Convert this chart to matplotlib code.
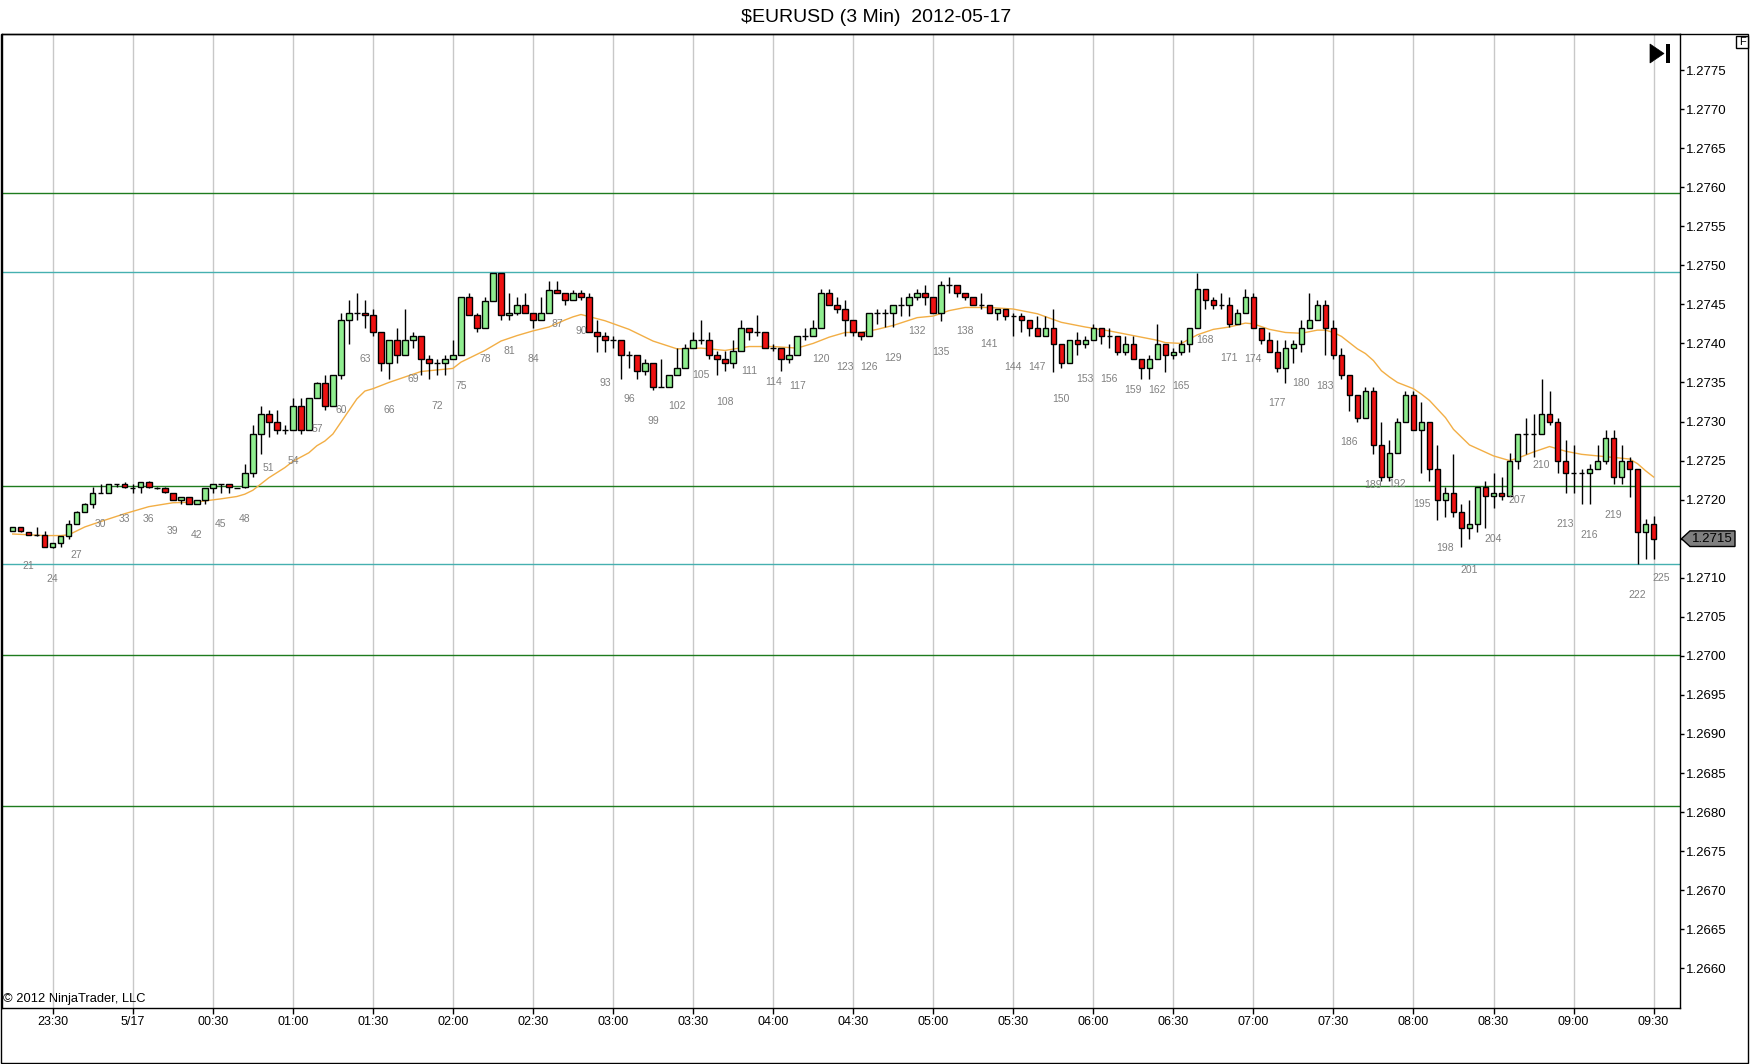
import matplotlib
matplotlib.use("Agg")
import matplotlib.pyplot as plt
from matplotlib.patches import Rectangle, Polygon
from matplotlib.transforms import blended_transform_factory

plt.rcParams['font.family'] = ['Liberation Sans', 'DejaVu Sans']

# ---- data (3 min bars, bar numbers 19..224) ----
first_bar = 19

opens = [
    1.27160, 1.27165, 1.27159, 1.27155, 1.27155, 1.27139, 1.27144, 1.27154, 1.27169, 1.27184,
    1.27194, 1.27209, 1.27209, 1.27220, 1.27220, 1.27215, 1.27216, 1.27223, 1.27215, 1.27215,
    1.27209, 1.27199, 1.27204, 1.27194, 1.27199, 1.27215, 1.27220, 1.27220, 1.27215, 1.27216,
    1.27234, 1.27284, 1.27310, 1.27299, 1.27289, 1.27289, 1.27320, 1.27289, 1.27330, 1.27349,
    1.27320, 1.27360, 1.27430, 1.27439, 1.27439, 1.27436, 1.27414, 1.27375, 1.27404, 1.27385,
    1.27404, 1.27410, 1.27380, 1.27375, 1.27375, 1.27380, 1.27385, 1.27459, 1.27436, 1.27420,
    1.27454, 1.27490, 1.27436, 1.27439, 1.27449, 1.27439, 1.27430, 1.27439, 1.27469, 1.27465,
    1.27455, 1.27465, 1.27460, 1.27415, 1.27410, 1.27404, 1.27404, 1.27385, 1.27385, 1.27365,
    1.27375, 1.27344, 1.27344, 1.27360, 1.27369, 1.27394, 1.27404, 1.27404, 1.27385, 1.27380,
    1.27375, 1.27390, 1.27420, 1.27415, 1.27415, 1.27394, 1.27394, 1.27380, 1.27385, 1.27410,
    1.27410, 1.27420, 1.27465, 1.27449, 1.27444, 1.27430, 1.27415, 1.27410, 1.27439, 1.27439,
    1.27439, 1.27449, 1.27449, 1.27459, 1.27465, 1.27459, 1.27439, 1.27475, 1.27475, 1.27465,
    1.27459, 1.27449, 1.27449, 1.27439, 1.27444, 1.27435, 1.27435, 1.27430, 1.27420, 1.27410,
    1.27420, 1.27399, 1.27375, 1.27404, 1.27399, 1.27404, 1.27420, 1.27410, 1.27410, 1.27389,
    1.27399, 1.27380, 1.27369, 1.27380, 1.27399, 1.27385, 1.27389, 1.27399, 1.27420, 1.27470,
    1.27455, 1.27449, 1.27449, 1.27425, 1.27439, 1.27459, 1.27420, 1.27404, 1.27389, 1.27369,
    1.27394, 1.27399, 1.27420, 1.27430, 1.27449, 1.27420, 1.27385, 1.27360, 1.27334, 1.27304,
    1.27339, 1.27270, 1.27229, 1.27260, 1.27300, 1.27334, 1.27289, 1.27300, 1.27239, 1.27199,
    1.27209, 1.27184, 1.27164, 1.27169, 1.27216, 1.27205, 1.27209, 1.27205, 1.27250, 1.27284,
    1.27284, 1.27284, 1.27310, 1.27299, 1.27250, 1.27234, 1.27234, 1.27234, 1.27239, 1.27250,
    1.27279, 1.27229, 1.27250, 1.27239, 1.27159, 1.27169,
]
highs = [
    1.27165, 1.27165, 1.27159, 1.27165, 1.27160, 1.27144, 1.27154, 1.27174, 1.27186, 1.27196,
    1.27216, 1.27220, 1.27220, 1.27220, 1.27223, 1.27220, 1.27223, 1.27224, 1.27216, 1.27216,
    1.27209, 1.27204, 1.27204, 1.27199, 1.27215, 1.27220, 1.27220, 1.27220, 1.27215, 1.27245,
    1.27295, 1.27320, 1.27315, 1.27315, 1.27295, 1.27330, 1.27330, 1.27330, 1.27350, 1.27360,
    1.27360, 1.27439, 1.27455, 1.27465, 1.27455, 1.27444, 1.27414, 1.27404, 1.27420, 1.27444,
    1.27414, 1.27410, 1.27385, 1.27380, 1.27385, 1.27404, 1.27459, 1.27465, 1.27439, 1.27459,
    1.27490, 1.27490, 1.27465, 1.27459, 1.27465, 1.27439, 1.27459, 1.27480, 1.27480, 1.27465,
    1.27469, 1.27469, 1.27465, 1.27430, 1.27415, 1.27410, 1.27404, 1.27390, 1.27385, 1.27380,
    1.27375, 1.27380, 1.27360, 1.27394, 1.27399, 1.27415, 1.27430, 1.27415, 1.27390, 1.27390,
    1.27404, 1.27430, 1.27420, 1.27436, 1.27415, 1.27399, 1.27394, 1.27399, 1.27410, 1.27420,
    1.27430, 1.27470, 1.27470, 1.27459, 1.27455, 1.27430, 1.27415, 1.27439, 1.27444, 1.27444,
    1.27449, 1.27459, 1.27465, 1.27470, 1.27475, 1.27459, 1.27480, 1.27485, 1.27475, 1.27465,
    1.27459, 1.27465, 1.27449, 1.27444, 1.27444, 1.27439, 1.27439, 1.27430, 1.27435, 1.27435,
    1.27444, 1.27399, 1.27404, 1.27415, 1.27410, 1.27425, 1.27420, 1.27420, 1.27410, 1.27410,
    1.27410, 1.27380, 1.27385, 1.27425, 1.27399, 1.27394, 1.27404, 1.27420, 1.27490, 1.27470,
    1.27459, 1.27465, 1.27459, 1.27444, 1.27470, 1.27465, 1.27420, 1.27415, 1.27404, 1.27404,
    1.27404, 1.27430, 1.27465, 1.27455, 1.27455, 1.27430, 1.27394, 1.27360, 1.27334, 1.27344,
    1.27344, 1.27300, 1.27276, 1.27304, 1.27339, 1.27339, 1.27325, 1.27300, 1.27270, 1.27216,
    1.27259, 1.27194, 1.27199, 1.27216, 1.27224, 1.27234, 1.27229, 1.27260, 1.27284, 1.27304,
    1.27310, 1.27354, 1.27339, 1.27304, 1.27276, 1.27270, 1.27239, 1.27245, 1.27270, 1.27289,
    1.27289, 1.27270, 1.27254, 1.27239, 1.27175, 1.27179,
]
lows = [
    1.27160, 1.27158, 1.27155, 1.27154, 1.27139, 1.27138, 1.27139, 1.27150, 1.27169, 1.27184,
    1.27189, 1.27209, 1.27209, 1.27216, 1.27215, 1.27209, 1.27209, 1.27215, 1.27214, 1.27209,
    1.27199, 1.27194, 1.27194, 1.27194, 1.27194, 1.27209, 1.27209, 1.27209, 1.27215, 1.27215,
    1.27229, 1.27259, 1.27280, 1.27284, 1.27284, 1.27289, 1.27284, 1.27289, 1.27330, 1.27315,
    1.27320, 1.27354, 1.27399, 1.27430, 1.27420, 1.27409, 1.27365, 1.27354, 1.27375, 1.27385,
    1.27394, 1.27360, 1.27354, 1.27360, 1.27360, 1.27380, 1.27385, 1.27436, 1.27414, 1.27420,
    1.27454, 1.27430, 1.27430, 1.27436, 1.27439, 1.27420, 1.27430, 1.27439, 1.27465, 1.27449,
    1.27455, 1.27455, 1.27414, 1.27389, 1.27389, 1.27394, 1.27354, 1.27369, 1.27354, 1.27360,
    1.27340, 1.27344, 1.27344, 1.27360, 1.27369, 1.27394, 1.27399, 1.27380, 1.27360, 1.27365,
    1.27369, 1.27390, 1.27404, 1.27410, 1.27394, 1.27390, 1.27365, 1.27375, 1.27385, 1.27404,
    1.27410, 1.27420, 1.27449, 1.27439, 1.27410, 1.27410, 1.27404, 1.27410, 1.27425, 1.27421,
    1.27421, 1.27435, 1.27435, 1.27455, 1.27449, 1.27439, 1.27429, 1.27465, 1.27459, 1.27455,
    1.27449, 1.27444, 1.27439, 1.27430, 1.27430, 1.27410, 1.27414, 1.27410, 1.27410, 1.27410,
    1.27364, 1.27369, 1.27375, 1.27385, 1.27394, 1.27404, 1.27399, 1.27394, 1.27385, 1.27385,
    1.27380, 1.27354, 1.27354, 1.27380, 1.27364, 1.27380, 1.27385, 1.27389, 1.27420, 1.27444,
    1.27444, 1.27444, 1.27421, 1.27425, 1.27439, 1.27420, 1.27399, 1.27389, 1.27364, 1.27349,
    1.27375, 1.27389, 1.27420, 1.27430, 1.27385, 1.27380, 1.27354, 1.27314, 1.27299, 1.27304,
    1.27259, 1.27224, 1.27224, 1.27260, 1.27300, 1.27289, 1.27234, 1.27224, 1.27174, 1.27178,
    1.27178, 1.27139, 1.27150, 1.27159, 1.27164, 1.27189, 1.27199, 1.27205, 1.27239, 1.27259,
    1.27254, 1.27284, 1.27295, 1.27234, 1.27209, 1.27209, 1.27194, 1.27194, 1.27239, 1.27245,
    1.27220, 1.27220, 1.27204, 1.27118, 1.27124, 1.27124,
]
closes = [
    1.27165, 1.27160, 1.27155, 1.27155, 1.27139, 1.27144, 1.27154, 1.27169, 1.27184, 1.27194,
    1.27209, 1.27209, 1.27220, 1.27220, 1.27216, 1.27215, 1.27223, 1.27216, 1.27215, 1.27210,
    1.27199, 1.27204, 1.27194, 1.27199, 1.27215, 1.27220, 1.27220, 1.27216, 1.27215, 1.27234,
    1.27284, 1.27310, 1.27299, 1.27289, 1.27289, 1.27320, 1.27289, 1.27330, 1.27349, 1.27320,
    1.27360, 1.27430, 1.27439, 1.27439, 1.27436, 1.27414, 1.27375, 1.27404, 1.27385, 1.27404,
    1.27410, 1.27380, 1.27375, 1.27375, 1.27380, 1.27385, 1.27459, 1.27436, 1.27420, 1.27454,
    1.27490, 1.27436, 1.27439, 1.27449, 1.27439, 1.27430, 1.27439, 1.27469, 1.27465, 1.27455,
    1.27465, 1.27460, 1.27415, 1.27410, 1.27404, 1.27404, 1.27385, 1.27385, 1.27365, 1.27375,
    1.27344, 1.27344, 1.27360, 1.27369, 1.27394, 1.27404, 1.27404, 1.27385, 1.27380, 1.27375,
    1.27390, 1.27420, 1.27415, 1.27415, 1.27394, 1.27394, 1.27380, 1.27385, 1.27410, 1.27410,
    1.27420, 1.27465, 1.27449, 1.27444, 1.27430, 1.27415, 1.27410, 1.27439, 1.27439, 1.27439,
    1.27449, 1.27449, 1.27459, 1.27465, 1.27459, 1.27439, 1.27475, 1.27475, 1.27465, 1.27459,
    1.27449, 1.27449, 1.27439, 1.27444, 1.27435, 1.27435, 1.27430, 1.27420, 1.27410, 1.27420,
    1.27399, 1.27375, 1.27404, 1.27399, 1.27404, 1.27420, 1.27410, 1.27410, 1.27389, 1.27399,
    1.27380, 1.27369, 1.27380, 1.27399, 1.27385, 1.27389, 1.27399, 1.27420, 1.27470, 1.27455,
    1.27449, 1.27449, 1.27425, 1.27439, 1.27459, 1.27420, 1.27404, 1.27389, 1.27369, 1.27394,
    1.27399, 1.27420, 1.27430, 1.27449, 1.27420, 1.27385, 1.27360, 1.27334, 1.27304, 1.27339,
    1.27270, 1.27229, 1.27260, 1.27300, 1.27334, 1.27289, 1.27300, 1.27239, 1.27199, 1.27209,
    1.27184, 1.27164, 1.27169, 1.27216, 1.27205, 1.27209, 1.27205, 1.27250, 1.27284, 1.27284,
    1.27284, 1.27310, 1.27299, 1.27250, 1.27234, 1.27234, 1.27234, 1.27239, 1.27250, 1.27279,
    1.27229, 1.27250, 1.27239, 1.27159, 1.27169, 1.27150,
]

# moving average (orange) read at selected bars
ma_bars = [19, 21, 23, 25, 26, 28, 30, 33, 36, 39, 42, 45, 47, 48, 49, 51, 53, 54, 56, 57,
           58, 59, 60, 61, 62, 63, 64, 66, 68, 70, 72, 74, 75, 76, 78, 80, 82, 84, 86, 88,
           89, 90, 93, 96, 99, 102, 105, 108, 111, 114, 117, 119, 121, 123, 125, 127, 129,
           132, 134, 136, 138, 141, 144, 147, 150, 153, 156, 159, 162, 163, 165, 167, 169,
           171, 173, 174, 176, 178, 180, 182, 183, 184, 185, 186, 187, 188, 189, 190, 191,
           192, 193, 194, 195, 196, 197, 198, 199, 201, 204, 206, 207, 209, 211, 212, 213,
           215, 218, 220, 221, 222, 223, 224]
ma_values = [1.27156, 1.27155, 1.27154, 1.27154, 1.27155, 1.27165, 1.27172, 1.27182, 1.27191,
             1.27196, 1.27197, 1.27201, 1.27204, 1.27207, 1.27212, 1.27228, 1.27241, 1.27249,
             1.27260, 1.27269, 1.27275, 1.27284, 1.27299, 1.27314, 1.27329, 1.27339, 1.27342,
             1.27350, 1.27357, 1.27364, 1.27366, 1.27368, 1.27376, 1.27381, 1.27391, 1.27403,
             1.27410, 1.27416, 1.27421, 1.27430, 1.27434, 1.27437, 1.27429, 1.27418, 1.27403,
             1.27393, 1.27394, 1.27391, 1.27396, 1.27396, 1.27394, 1.27400, 1.27408, 1.27414,
             1.27414, 1.27418, 1.27423, 1.27433, 1.27435, 1.27442, 1.27446, 1.27446, 1.27444,
             1.27438, 1.27427, 1.27421, 1.27416, 1.27410, 1.27404, 1.27401, 1.27400, 1.27411,
             1.27418, 1.27421, 1.27426, 1.27425, 1.27418, 1.27414, 1.27413, 1.27417, 1.27417,
             1.27414, 1.27409, 1.27401, 1.27393, 1.27387, 1.27378, 1.27365, 1.27357, 1.27350,
             1.27346, 1.27342, 1.27335, 1.27327, 1.27316, 1.27305, 1.27290, 1.27270, 1.27256,
             1.27250, 1.27253, 1.27261, 1.27268, 1.27265, 1.27262, 1.27258, 1.27255, 1.27253,
             1.27252, 1.27246, 1.27237, 1.27229]

green_levels = [1.27593, 1.27218, 1.27001, 1.26808]
cyan_levels = [1.27491, 1.27118]

time_labels = ['23:30', '5/17', '00:30', '01:00', '01:30', '02:00', '02:30', '03:00',
               '03:30', '04:00', '04:30', '05:00', '05:30', '06:00', '06:30', '07:00',
               '07:30', '08:00', '08:30', '09:00', '09:30']
first_tick_bar = 24
bars_per_tick = 10

last_price = 1.2715
next_bar = 225
next_bar_low = 1.27139

y_ticks = [1.2660, 1.2665, 1.2670, 1.2675, 1.2680, 1.2685, 1.2690, 1.2695, 1.2700, 1.2705,
           1.2710, 1.2715, 1.2720, 1.2725, 1.2730, 1.2735, 1.2740, 1.2745, 1.2750, 1.2755,
           1.2760, 1.2765, 1.2770, 1.2775]

# ---- figure ----
W, H = 1752, 1064


def fx(px):
    return px / W


def fy(py):
    return 1 - py / H


fig = plt.figure(figsize=(W / 100, H / 100), dpi=100)
ax = fig.add_axes([fx(1.5), fy(1008), fx(1680) - fx(1.5), fy(34) - fy(1008)])

bars = list(range(first_bar, first_bar + len(opens)))
up_color = '#90EE90'
down_color = '#EE1111'
body_w = 0.68

ax.vlines(bars, lows, highs, color='black', lw=1, zorder=3)
for b, o, c in zip(bars, opens, closes):
    if abs(c - o) < 1e-7:
        ax.hlines(o, b - body_w / 2, b + body_w / 2, color='black', lw=1, zorder=4)
        continue
    color = up_color if c > o else down_color
    ax.add_patch(Rectangle((b - body_w / 2, min(o, c)), body_w, abs(c - o),
                           facecolor=color, edgecolor='black', lw=1, zorder=4))

# bar numbers every 3 bars under the lows
for b, lo in zip(bars, lows):
    if b % 3 == 0:
        ax.annotate(str(b), (b, lo), xytext=(0, -22.3), textcoords='offset points',
                    ha='center', va='center', fontsize=7.5, color='#808080', zorder=5)
ax.annotate(str(next_bar), (next_bar, next_bar_low), xytext=(0, -22.3),
            textcoords='offset points', ha='center', va='center', fontsize=7.5,
            color='#808080', zorder=5)

ax.plot(ma_bars, ma_values, color='#F2AE45', lw=1, zorder=2)

for v in green_levels:
    ax.axhline(v, color='#1E7B1E', lw=1, zorder=1)
for v in cyan_levels:
    ax.axhline(v, color='#45B0B0', lw=1, zorder=1)

ax.set_xlim(17.6, 227.3)
ax.set_ylim(1.265492, 1.277961)

tick_bars = [first_tick_bar + bars_per_tick * k for k in range(len(time_labels))]
ax.set_xticks(tick_bars)
ax.set_xticklabels(time_labels)
ax.grid(axis='x', color='#C8C8C8', lw=1, zorder=0)
ax.set_axisbelow(True)
ax.tick_params(axis='x', direction='out', length=4, width=1, labelsize=9, pad=2)

# the last-price marker covers the tick label at that price
ax.yaxis.tick_right()
ax.set_yticks(y_ticks)
ax.set_yticklabels(['' if abs(v - last_price) < 1e-7 else '%.4f' % v for v in y_ticks])
ax.tick_params(axis='y', direction='out', length=3, width=1, labelsize=9.5, pad=1)

for s in ax.spines.values():
    s.set_linewidth(1)
    s.set_color('black')

# outer frame
fig.add_artist(Rectangle((fx(0.5), fy(1063)), fx(1748) - fx(0.5), fy(34) - fy(1063),
                         fill=False, edgecolor='black', lw=1, transform=fig.transFigure))

fig.text(0.5, fy(18), '\\$EURUSD (3 Min)  2012-05-17', ha='center', va='center', fontsize=14)
fig.text(fx(3), fy(999), '\u00a9 2012 NinjaTrader, LLC', ha='left', va='center', fontsize=9.3)

# last price marker
tr = blended_transform_factory(fig.transFigure, ax.transData)
hh = 0.0001
marker = Polygon([(fx(1681.5), last_price), (fx(1690), last_price + hh), (fx(1735), last_price + hh),
                  (fx(1735), last_price - hh), (fx(1690), last_price - hh)],
                 closed=True, facecolor='#7F7F7F', edgecolor='black', lw=1,
                 transform=tr, clip_on=False)
fig.add_artist(marker)
fig.text(fx(1712.5), last_price, '%.4f' % last_price, ha='center', va='center', fontsize=9.5,
         color='black', transform=tr)

# play-to-end icon and F button
fig.add_artist(Polygon([(fx(1650), fy(44)), (fx(1650), fy(63)), (fx(1664), fy(53.5))],
                       closed=True, facecolor='black', edgecolor='black', lw=0.5,
                       transform=fig.transFigure))
fig.add_artist(Rectangle((fx(1666), fy(63)), fx(1670) - fx(1666), fy(44) - fy(63),
                         facecolor='black', edgecolor='none', transform=fig.transFigure))
fig.add_artist(Rectangle((fx(1736), fy(48)), fx(1748) - fx(1736), fy(36) - fy(48),
                         facecolor='white', edgecolor='black', lw=1, transform=fig.transFigure))
fig.text(fx(1742), fy(42), 'F', ha='center', va='center', fontsize=8)

fig.savefig('out.png', dpi=100)
